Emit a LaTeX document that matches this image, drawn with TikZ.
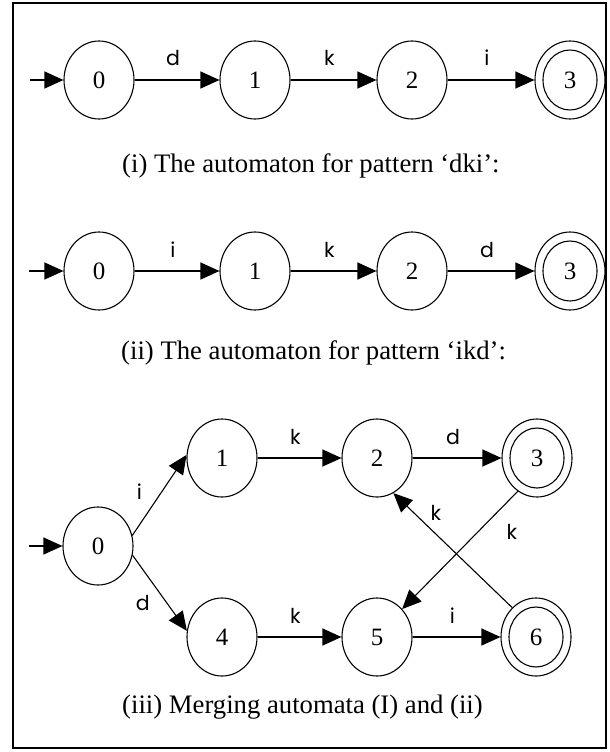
\documentclass[tikz,border=0pt]{standalone}
\usepackage{fontspec}
\setmainfont{Liberation Serif}
\newfontfamily\lblfont{Poppins}
\usetikzlibrary{shapes.geometric,arrows.meta}
\begin{document}
\begin{tikzpicture}[x=1pt,y=-1pt,
  state/.style={ellipse,draw,line width=1.1pt,minimum width=70pt,minimum height=78pt,inner sep=0pt,font=\fontsize{25}{25}\selectfont},
  arr/.style={line width=1.1pt,-{Triangle[length=19pt,width=17pt]}},
  lbl/.style={font=\lblfont\fontsize{20.5}{21}\selectfont,anchor=base,yshift=14pt,xshift=-4pt},
  dlbl/.style={font=\lblfont\fontsize{20.5}{21}\selectfont,text height=15pt,text depth=0pt},
  captext/.style={font=\fontsize{26.7}{27}\selectfont,anchor=base west,inner sep=0pt}]
\useasboundingbox (0,0) rectangle (610,752);
\draw[line width=1.5pt] (13,3) rectangle (606,748);
% row 1
\node[state] (a0) at (99,80) {0};
\node[state] (a1) at (255,80) {1};
\node[state] (a2) at (412,80) {2};
\node[state] (a3) at (570,80) {3};
\draw[line width=1.1pt] (a3.center) ellipse (27pt and 30pt);
\coordinate (s1) at (30,80);
\draw[arr] (s1) -- (a0);
\draw[arr] (a0) -- node[lbl,midway] {d} (a1);
\draw[arr] (a1) -- node[lbl,midway] {k} (a2);
\draw[arr] (a2) -- node[lbl,midway] {i} (a3);
\node[captext] (c1) at (122,172) {(i) The automaton for pattern ‘dki’:};
% row 2
\node[state] (b0) at (99,271) {0};
\node[state] (b1) at (255,271) {1};
\node[state] (b2) at (412,271) {2};
\node[state] (b3) at (570,271) {3};
\draw[line width=1.1pt] (b3.center) ellipse (27pt and 30pt);
\coordinate (s2) at (29,271);
\draw[arr] (s2) -- (b0);
\draw[arr] (b0) -- node[lbl,midway] {i} (b1);
\draw[arr] (b1) -- node[lbl,midway] {k} (b2);
\draw[arr] (b2) -- node[lbl,midway] {d} (b3);
\node[captext] (c2) at (121,359) {(ii) The automaton for pattern ‘ikd’:};
% row 3
\node[state] (m0) at (98,546) {0};
\node[state] (m1) at (222,458) {1};
\node[state] (m2) at (377,458) {2};
\node[state] (m3) at (537,458) {3};
\draw[line width=1.1pt] (m3.center) ellipse (27pt and 30pt);
\node[state] (m4) at (222,637) {4};
\node[state] (m5) at (377,637) {5};
\node[state] (m6) at (536,637) {6};
\draw[line width=1.1pt] (m6.center) ellipse (27pt and 30pt);
\coordinate (s3) at (29,546);
\draw[arr] (s3) -- (m0);
\draw[arr] (m0.17) -- node[dlbl,midway,xshift=-20pt,yshift=3pt] {i} (m1.175);
\draw[arr] (m0.345) -- node[dlbl,midway,xshift=-17pt,yshift=-10pt] {d} (m4.170);
\draw[arr] (m1) -- node[lbl,midway] {k} (m2);
\draw[arr] (m2) -- node[lbl,midway] {d} (m3);
\draw[arr] (m4) -- node[lbl,midway] {k} (m5);
\draw[arr] (m5) -- node[lbl,midway] {i} (m6);
\draw[arr] (m3.240) -- node[dlbl,midway,xshift=52pt,yshift=18pt] {k} (m5.48);
\draw[arr] (m6.129) -- node[dlbl,midway,xshift=-17pt,yshift=37pt] {k} (m2.295);
\node[captext] (c3) at (122,713) {(iii) Merging automata (I) and (ii)};
\end{tikzpicture}
\end{document}
